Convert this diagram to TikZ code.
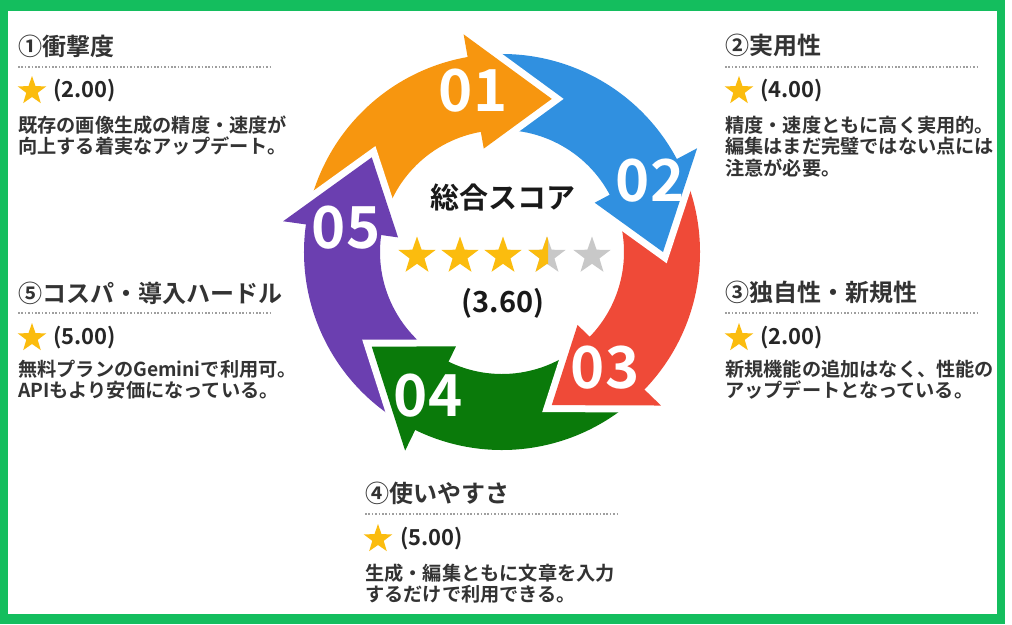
\documentclass[tikz,border=0pt]{standalone}
\usepackage{fontspec}
\usetikzlibrary{calc,shapes.geometric}
\newfontfamily\jp{Noto Sans CJK JP Bold}
\definecolor{frameG}{HTML}{14BE5E}
\definecolor{cOr}{HTML}{F7960F}
\definecolor{cBl}{HTML}{3090E0}
\definecolor{cRd}{HTML}{EF4A38}
\definecolor{cGr}{HTML}{0A7A0A}
\definecolor{cPu}{HTML}{6B3FB0}
\definecolor{txt}{HTML}{333333}
\definecolor{gold}{HTML}{FBBC0E}
\definecolor{sgray}{HTML}{C8C8C8}
\tikzset{
  headtxt/.style={font=\jp\fontsize{24}{28}\selectfont, text=txt, anchor=west, inner sep=0pt},
  scoretxt/.style={font=\jp\fontsize{22}{26}\selectfont, text=black!85, anchor=west, inner sep=0pt},
  bodytxt/.style={font=\jp\fontsize{19.2}{21.6}\selectfont, text=txt, anchor=north west, align=left, inner sep=0pt},
  sepline/.style={draw=gray!75, line width=1.6pt, dash pattern=on 1.6pt off 1.8pt},
  smallstar/.style={star, star points=5, star point ratio=2.5, fill=gold, minimum size=30pt, inner sep=0pt, draw=none},
  bigstar/.style={star, star points=5, star point ratio=2.5, fill=gold, minimum size=39pt, inner sep=0pt, draw=none},
  numtxt/.style={font=\jp\fontsize{58}{60}\selectfont, text=white, inner sep=0pt},
  centertxt/.style={font=\jp\fontsize{29}{32}\selectfont, text=black!90, inner sep=0pt},
}
\begin{document}
\begin{tikzpicture}[x=1pt,y=1pt]
\useasboundingbox (0,0) rectangle (1012,-624);
% frame
\fill[frameG] (0,0) rectangle (1005,-624);
\fill[white] (8,-11) rectangle (997,-614);

% ring
\coordinate (C) at (502,-252);
\def\Ro{198}\def\Ri{122}\def\Rwo{221}\def\Rwi{105}\def\Rt{161}
\foreach \b/\col in {100/cOr, 28/cBl, -44/cRd, -116/cGr, -188/cPu}{
  \fill[\col] ($(C)+(\b+70:\Ro)$) arc[start angle=\b+70, end angle=\b-1, radius=\Ro]
     -- ($(C)+(\b-1:\Ri)$) arc[start angle=\b-1, end angle=\b+70, radius=\Ri] -- cycle;
}
\foreach \b/\col in {100/cOr, 28/cBl, -44/cRd, -116/cGr, -188/cPu}{
  \draw[white, line width=14pt, line join=miter] ($(C)+(\b:\Rwo)$) -- ($(C)+(\b-28:\Rt)$) -- ($(C)+(\b:\Rwi)$);
  \fill[\col] ($(C)+(\b:\Rwo)$) -- ($(C)+(\b-28:\Rt)$) -- ($(C)+(\b:\Rwi)$) -- cycle;
}
\node[numtxt] (n1) at (473,-91) {01};
\node[numtxt] (n2) at (650,-181) {02};
\node[numtxt] (n3) at (605,-368) {03};
\node[numtxt] (n4) at (428,-396) {04};
\node[numtxt] (n5) at (346,-228) {05};

% center
\node[centertxt] (total) at (503,-197) {総合スコア};
\node[bigstar] (s1) at (417,-256) {};
\node[bigstar] (s2) at (460,-256) {};
\node[bigstar] (s3) at (503,-256) {};
\node[bigstar, fill=sgray] (s4) at (547,-256) {};
\begin{scope}
  \clip (520,-230) rectangle (548,-285);
  \node[bigstar] (s4h) at (547,-256) {};
\end{scope}
\node[bigstar, fill=sgray] (s5) at (592,-256) {};
\node[centertxt] (avg) at (503,-303) {(3.60)};

% block 1
\node[headtxt] (h1) at (18,-46) {①衝撃度};
\draw[sepline] (18,-67) -- (270,-67);
\node[smallstar] (st1) at (32,-91) {};
\node[scoretxt] (sc1) at (53,-91) {(2.00)};
\node[bodytxt] (b1) at (18,-115.5) {既存の画像生成の精度・速度が\\向上する着実なアップデート。};

% block 2
\node[headtxt] (h2) at (725,-45) {②実用性};
\draw[sepline] (725,-67) -- (977,-67);
\node[smallstar] (st2) at (739,-91) {};
\node[scoretxt] (sc2) at (760,-91) {(4.00)};
\node[bodytxt] (b2) at (725,-115.5) {精度・速度ともに高く実用的。\\編集はまだ完璧ではない点には\\注意が必要。};

% block 5
\node[headtxt] (h5) at (18,-293) {⑤コスパ・導入ハードル};
\draw[sepline] (18,-313) -- (270,-313);
\node[smallstar] (st5) at (32,-338) {};
\node[scoretxt] (sc5) at (53,-338) {(5.00)};
\node[bodytxt] (b5) at (18,-359.5) {無料プランのGeminiで利用可。\\APIもより安価になっている。};

% block 3
\node[headtxt] (h3) at (725,-292) {③独自性・新規性};
\draw[sepline] (725,-313) -- (977,-313);
\node[smallstar] (st3) at (739,-338) {};
\node[scoretxt] (sc3) at (760,-338) {(2.00)};
\node[bodytxt] (b3) at (725,-359.5) {新規機能の追加はなく、性能の\\アップデートとなっている。};

% block 4
\node[headtxt] (h4) at (365,-493) {④使いやすさ};
\draw[sepline] (365,-514) -- (617,-514);
\node[smallstar] (st4) at (378,-539) {};
\node[scoretxt] (sc4) at (400,-539) {(5.00)};
\node[bodytxt] (b4) at (365,-563.5) {生成・編集ともに文章を入力\\するだけで利用できる。};
\end{tikzpicture}
\end{document}
